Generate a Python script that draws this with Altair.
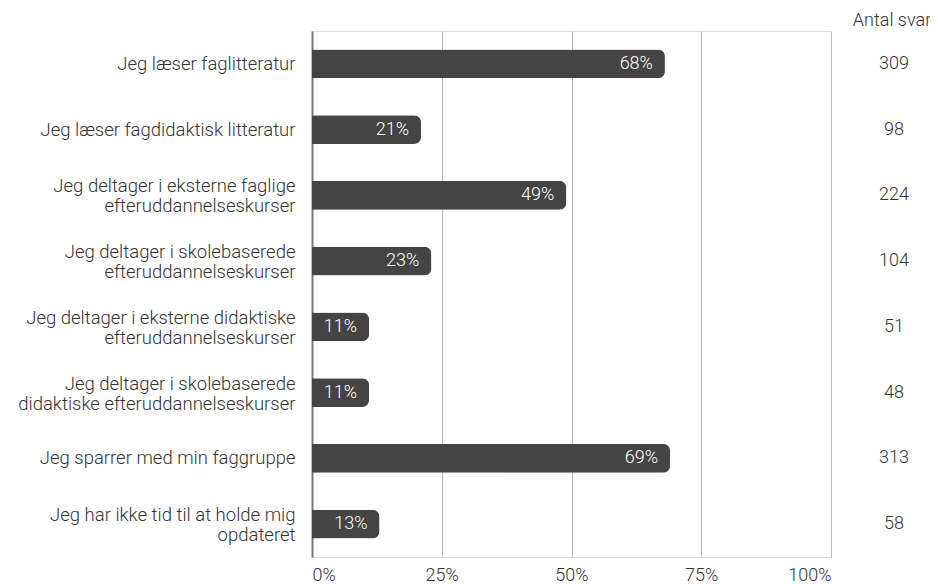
import altair as alt
import pandas as pd

categories = [
    "Jeg læser faglitteratur",
    "Jeg læser fagdidaktisk litteratur",
    "Jeg deltager i eksterne faglige|efteruddannelseskurser",
    "Jeg deltager i skolebaserede|efteruddannelseskurser",
    "Jeg deltager i eksterne didaktiske|efteruddannelseskurser",
    "Jeg deltager i skolebaserede|didaktiske efteruddannelseskurser",
    "Jeg sparrer med min faggruppe",
    "Jeg har ikke tid til at holde mig|opdateret",
]
percent = [68, 21, 49, 23, 11, 11, 69, 13]
counts = [309, 98, 224, 104, 51, 48, 313, 58]
x_ticks = [0, 25, 50, 75, 100]

df = pd.DataFrame({"cat": categories, "pct": percent, "n": counts})
df["pct_label"] = df["pct"].astype(str) + "%"
df["n_label"] = df["n"].astype(str)

FONT = "Roboto"
TEXT = "#333333"
FS = 18.5
FW = 300

y_enc = alt.Y(
    "cat:N",
    sort=categories,
    scale=alt.Scale(paddingInner=0.56, paddingOuter=0.28),
    axis=alt.Axis(
        title=None,
        labelExpr="split(datum.label, '|')",
        labelFontSize=FS,
        labelFont=FONT,
        labelFontWeight=FW,
        labelColor=TEXT,
        labelLineHeight=20,
        labelPadding=17,
        labelOffset={
            "condition": {"test": "indexof(datum.value, '|') >= 0", "value": -9},
            "value": 0,
        },
        ticks=False,
        domain=True,
        domainColor="#777777",
        domainWidth=2,
        grid=False,
        labelLimit=400,
    ),
)

x_enc = alt.X(
    "pct:Q",
    scale=alt.Scale(domain=[0, 100]),
    axis=alt.Axis(
        title=None,
        values=x_ticks,
        labelExpr="datum.value + '%'",
        labelFontSize=18,
        labelFont=FONT,
        labelFontWeight=FW,
        labelColor=TEXT,
        labelPadding=9,
        labelFlush=True,
        ticks=False,
        domain=False,
        grid=True,
        gridColor="#b8b8b8",
        gridWidth=1,
    ),
)

base = alt.Chart(df)

bars = base.mark_bar(color="#444444", cornerRadiusEnd=7).encode(x=x_enc, y=y_enc)

bar_labels = base.mark_text(
    align="right", baseline="middle", dx=-12, color="white", fontSize=18,
    font=FONT, fontWeight=FW
).encode(x="pct:Q", y=alt.Y("cat:N", sort=categories), text="pct_label:N")

count_labels = base.mark_text(
    align="center", baseline="middle", color=TEXT, fontSize=18, font=FONT, fontWeight=FW
).encode(x=alt.value(582), y=alt.Y("cat:N", sort=categories), text="n_label:N")

header = alt.Chart(pd.DataFrame({"t": ["Antal svar"]})).mark_text(
    align="center", baseline="middle", color=TEXT, fontSize=18, font=FONT, fontWeight=FW
).encode(x=alt.value(580), y=alt.value(-10), text="t:N")

chart = (
    alt.layer(bars, bar_labels, count_labels, header)
    .properties(
        width=519,
        height=526,
        autosize=alt.AutoSizeParams(type="none"),
        padding={"left": 304, "top": 23, "right": 99, "bottom": 29},
    )
    .configure_view(stroke=None)
    .configure(background="white")
)

chart.save("out.html", embed_options={"renderer": "svg", "actions": False})
